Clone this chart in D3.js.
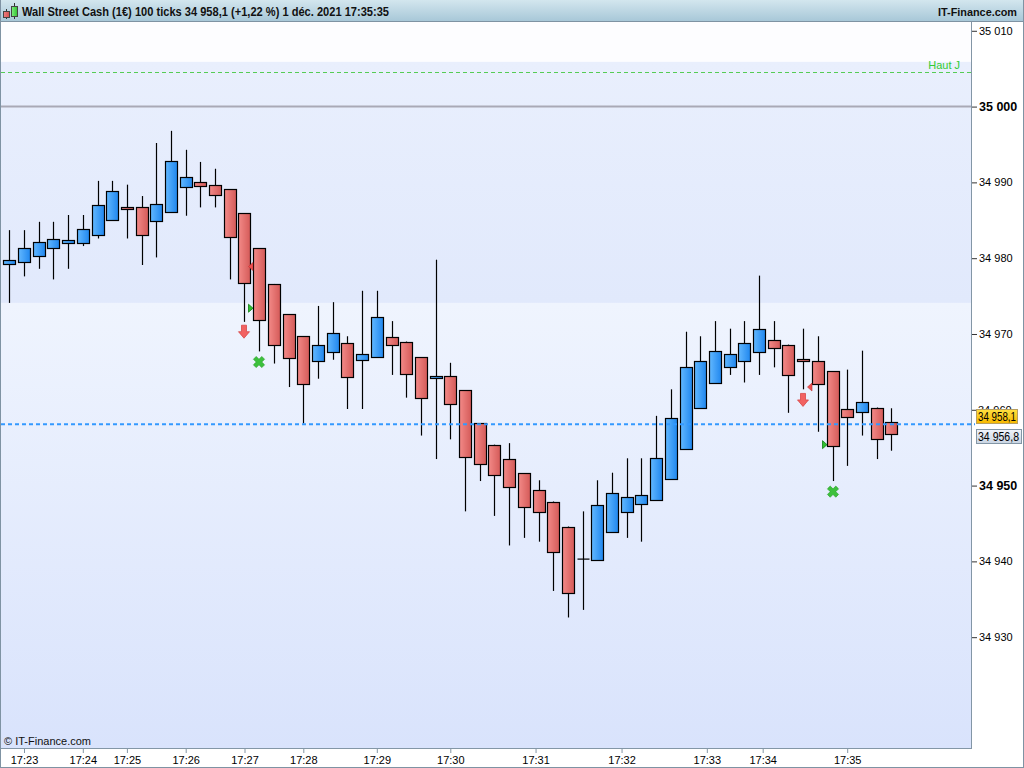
<!DOCTYPE html>
<html><head><meta charset="utf-8">
<script src="https://cdn.jsdelivr.net/npm/d3@7"></script>
<style>body{margin:0;background:#fff;} svg{display:block;font-family:"Liberation Sans",Arial,sans-serif;}</style>
</head><body>
<svg id="c" width="1024" height="768"></svg>
<script>
// ---- DATA ----
const opens  = [34979.2,34979.5,34980.4,34981.3,34982.0,34982.1,34983.0,34985.0,34986.8,34986.7,34984.9,34986.1,34989.4,34990.0,34989.7,34989.1,34985.9,34981.3,34976.6,34972.6,34969.7,34966.5,34967.6,34968.8,34966.5,34966.9,34969.6,34969.0,34966.9,34964.3,34964.4,34962.6,34958.2,34955.4,34953.5,34951.6,34949.4,34947.9,34944.6,34940.3,34940.3,34943.8,34946.5,34947.5,34948.1,34950.9,34954.9,34960.3,34963.5,34965.6,34966.4,34967.6,34969.2,34968.6,34966.7,34966.5,34965.1,34960.1,34959.7,34960.3,34958.4];
const highs  = [34983.7,34983.7,34984.8,34984.8,34985.7,34985.7,34990.2,34990.2,34989.7,34988.2,34995.2,34996.8,34994.3,34992.7,34991.8,34989.1,34985.9,34981.3,34976.6,34972.6,34969.7,34973.7,34974.2,34969.7,34975.7,34975.7,34971.7,34969.0,34966.9,34979.8,34966.2,34962.6,34958.2,34955.4,34955.6,34951.6,34950.7,34947.9,34944.6,34946.6,34950.7,34951.7,34953.6,34953.6,34959.2,34962.7,34970.3,34969.7,34971.7,34970.7,34971.7,34977.7,34971.7,34968.6,34970.7,34969.7,34965.1,34965.3,34967.8,34960.3,34960.2];
const lows   = [34974.1,34977.6,34978.6,34977.2,34978.6,34981.6,34982.6,34985.0,34982.6,34979.1,34980.1,34986.1,34985.6,34986.7,34986.7,34977.2,34971.6,34967.7,34966.1,34963.0,34958.2,34964.1,34966.6,34960.1,34960.1,34966.9,34964.6,34961.6,34956.6,34953.5,34956.1,34946.6,34950.6,34946.0,34942.1,34943.1,34942.6,34936.1,34932.6,34933.6,34940.3,34943.8,34943.1,34942.6,34948.1,34950.9,34954.9,34960.3,34963.5,34964.6,34963.6,34964.6,34965.6,34959.6,34962.7,34957.1,34950.6,34952.6,34956.6,34953.5,34954.6];
const closes = [34979.7,34981.4,34982.2,34982.5,34982.4,34983.9,34987.0,34988.8,34986.6,34983.0,34987.1,34992.8,34990.7,34989.5,34988.4,34982.8,34976.7,34971.8,34968.5,34966.8,34963.4,34968.6,34970.1,34964.3,34967.3,34972.2,34968.6,34964.8,34961.5,34964.5,34960.7,34953.7,34952.8,34951.5,34949.8,34947.1,34946.5,34941.3,34935.9,34940.3,34947.5,34949.0,34948.5,34948.7,34953.7,34958.9,34965.7,34966.5,34967.7,34967.3,34968.8,34970.6,34968.2,34964.7,34966.4,34963.5,34955.2,34959.1,34961.0,34956.2,34956.8];

const priceTicks = [34930,34940,34950,34960,34970,34980,34990,35000,35010];
const boldTicks  = [34950,35000];
const timeLabels = ["17:23","17:24","17:25","17:26","17:27","17:28","17:29","17:30","17:31","17:32","17:33","17:34","17:35"];
const timeIndex  = [1,5,8,12,16,20,25,30,35.8,41.65,47.45,51.25,57];

const hautJ = 35004.6;
const refLevel = 35000;
const lastPrice = 34958.1;
const lastClose = 34956.8;
const zoneLow = 34974.1, zoneHigh = 35005.9;
const arrowIdx = [16,54], arrowVal = [34970.3,34961.3];
const crossIdx = [17,56], crossVal = [34966.3,34949.2];
const redTriIdx = [17,55], redTriVal = [34978.9,34963.0];
const greenTriIdx = [17,56], greenTriVal = [34973.4,34955.4];

const title = "Wall Street Cash (1\u20ac) 100 ticks 34 958,1 (+1,22 %) 1 d\u00e9c. 2021 17:35:35";

// ---- LAYOUT ----
const W=1024,H=768;
const P={l:1,r:971,t:22,b:748};
const svg=d3.select("#c");
const defs=svg.append("defs");
const x=d3.scaleLinear().domain([0,60]).range([9.3,891.3]);
const y=d3.scaleLinear().domain([34915.38,35011.16]).range([P.b,P.t]);
const loc=d3.formatLocale({decimal:",",thousands:" ",grouping:[3],currency:["","€"]});
const fmt0=loc.format(",.0f"), fmt1=loc.format(",.1f");

function lg(id,stops,horiz){
  const g=defs.append("linearGradient").attr("id",id);
  if(horiz) g.attr("x1",0).attr("y1",0).attr("x2",1).attr("y2",0);
  else g.attr("x1",0).attr("y1",0).attr("x2",0).attr("y2",1);
  stops.forEach((c,i)=>g.append("stop").attr("offset",i/(stops.length-1)).attr("stop-color",c));
}
lg("hdr",["#d3e6ee","#a8c8d8"]);
lg("bgLow",["#eff4fe","#d9e3fc"]);
lg("band",["#e9effd","#e1e9fc"]);
lg("up",["#62b8ff","#1f86ee"],true);
lg("dn",["#f38a88","#d45a58"],true);
lg("yel",["#ffe040","#f7b800"]);
lg("gry",["#f0f4fa","#c9d4e2"]);
lg("icR",["#f08080","#d05050"],true);
lg("icG",["#80f080","#30c030"],true);

svg.append("rect").attr("width",W).attr("height",H).attr("fill","#fff");
// plot backgrounds
svg.append("rect").attr("x",P.l).attr("y",P.t).attr("width",P.r-P.l).attr("height",P.b-P.t).attr("fill","#fdfdff");
svg.append("rect").attr("x",P.l).attr("y",y(zoneLow)).attr("width",P.r-P.l).attr("height",P.b-y(zoneLow)).attr("fill","url(#bgLow)");
svg.append("rect").attr("x",P.l).attr("y",y(zoneHigh)).attr("width",P.r-P.l).attr("height",y(zoneLow)-y(zoneHigh)).attr("fill","url(#band)");

// header
svg.append("rect").attr("x",0).attr("y",0).attr("width",W).attr("height",21).attr("fill","url(#hdr)");
svg.append("line").attr("x1",0).attr("x2",W).attr("y1",21.5).attr("y2",21.5).attr("stroke","#7f93a3");
// icon
svg.append("line").attr("x1",6.5).attr("x2",6.5).attr("y1",9).attr("y2",19).attr("stroke","#333");
svg.append("rect").attr("x",3.5).attr("y",11.5).attr("width",6).attr("height",6).attr("fill","url(#icR)").attr("stroke","#444");
svg.append("line").attr("x1",14.5).attr("x2",14.5).attr("y1",3).attr("y2",19).attr("stroke","#333");
svg.append("rect").attr("x",11.5).attr("y",6.5).attr("width",6).attr("height",10).attr("fill","url(#icG)").attr("stroke","#444");
svg.append("text").attr("x",22).attr("y",16).attr("font-size",12.5).attr("font-weight","bold").attr("fill","#111")
  .attr("textLength",367).attr("lengthAdjust","spacingAndGlyphs").text(title);
svg.append("text").attr("x",938).attr("y",16).attr("font-size",11.5).attr("font-weight","bold").attr("fill","#111")
  .attr("textLength",79).attr("lengthAdjust","spacingAndGlyphs").text("IT-Finance.com");

const plot=svg.append("g");
// haut J
plot.append("line").attr("x1",P.l).attr("x2",P.r).attr("y1",Math.round(y(hautJ))+0.5).attr("y2",Math.round(y(hautJ))+0.5)
  .attr("stroke","#55cc55").attr("stroke-dasharray","4,3");
plot.append("text").attr("x",960).attr("y",y(hautJ)-3).attr("text-anchor","end").attr("font-size",11).attr("fill","#33cc33").text("Haut J");
// 35000 line
plot.append("line").attr("x1",P.l).attr("x2",P.r).attr("y1",y(refLevel)).attr("y2",y(refLevel)).attr("stroke","#a9a9b6").attr("stroke-width",2);

// candles
const idx=d3.range(opens.length);
const cg=plot.append("g");
const cx=i=>Math.round(x(i))+0.5;
cg.selectAll(".wick").data(idx).join("line")
  .attr("x1",cx).attr("x2",cx).attr("y1",i=>y(highs[i])).attr("y2",i=>y(lows[i]))
  .attr("stroke","#000").attr("stroke-width",1.2);
cg.selectAll(".body").data(idx.filter(i=>opens[i]!==closes[i])).join("rect")
  .attr("x",i=>cx(i)-6).attr("width",12)
  .attr("y",i=>Math.round(y(Math.max(opens[i],closes[i])))+0.5)
  .attr("height",i=>Math.max(1,Math.round(Math.abs(y(opens[i])-y(closes[i])))))
  .attr("fill",i=>closes[i]>opens[i]?"url(#up)":"url(#dn)")
  .attr("stroke","#000").attr("stroke-width",1.2);
cg.selectAll(".doji").data(idx.filter(i=>opens[i]===closes[i])).join("line")
  .attr("x1",i=>cx(i)-6).attr("x2",i=>cx(i)+6).attr("y1",i=>y(opens[i])).attr("y2",i=>y(opens[i]))
  .attr("stroke","#000").attr("stroke-width",1.2);

// markers
arrowIdx.forEach((ii,k)=>{
  const X=cx(ii)-0.5, Y=y(arrowVal[k]);
  plot.append("path").attr("d",`M${X-2.5},${Y-6.5}L${X+2.5},${Y-6.5}L${X+2.5},${Y}L${X+5.5},${Y}L${X},${Y+6.5}L${X-5.5},${Y}L${X-2.5},${Y}Z`)
    .attr("fill","#f26262").attr("stroke","#d84848").attr("stroke-width",0.8);
});
crossIdx.forEach((ii,k)=>{
  plot.append("path").attr("d",d3.symbol(d3.symbolCross,78)())
    .attr("transform",`translate(${cx(ii)-0.5},${y(crossVal[k])}) rotate(45)`)
    .attr("fill","#3cc03c").attr("stroke","#2aa02a").attr("stroke-width",0.6);
});
redTriIdx.forEach((ii,k)=>{
  const X=cx(ii)-6.5, Y=y(redTriVal[k]);
  plot.append("path").attr("d",`M${X},${Y-4}L${X},${Y+4}L${X-4.5},${Y}Z`).attr("fill","#f05050").attr("stroke","#c03030").attr("stroke-width",0.6);
});
greenTriIdx.forEach((ii,k)=>{
  const X=cx(ii)-11, Y=y(greenTriVal[k]);
  plot.append("path").attr("d",`M${X},${Y-4}L${X},${Y+4}L${X+4.5},${Y}Z`).attr("fill","#30c030").attr("stroke","#108010").attr("stroke-width",0.8);
});

// last price dashed line
plot.append("line").attr("x1",P.l).attr("x2",975).attr("y1",y(lastPrice)).attr("y2",y(lastPrice))
  .attr("stroke","#3399ff").attr("stroke-width",2).attr("stroke-dasharray","4,3");

// copyright
svg.append("text").attr("x",4).attr("y",745).attr("font-size",11).attr("fill","#111").text("\u00a9 IT-Finance.com");

// frame
svg.append("line").attr("x1",P.r+0.5).attr("x2",P.r+0.5).attr("y1",22).attr("y2",P.b+1).attr("stroke","#8396a6");
svg.append("line").attr("x1",0).attr("x2",P.r+1).attr("y1",P.b+0.5).attr("y2",P.b+0.5).attr("stroke","#8396a6");
svg.append("line").attr("x1",0.5).attr("x2",0.5).attr("y1",0).attr("y2",H).attr("stroke","#7f93a3");
svg.append("line").attr("x1",W-0.5).attr("x2",W-0.5).attr("y1",0).attr("y2",H).attr("stroke","#7f93a3");
svg.append("line").attr("x1",0).attr("x2",W).attr("y1",H-0.5).attr("y2",H-0.5).attr("stroke","#7f93a3");

// right axis
const ya=svg.append("g").attr("transform",`translate(${P.r+1},0)`)
  .call(d3.axisRight(y).tickValues(priceTicks).tickSize(5).tickPadding(2).tickFormat(fmt0));
ya.select(".domain").remove();
ya.selectAll(".tick line").attr("stroke","#333");
ya.selectAll(".tick text").attr("font-family","Liberation Sans, Arial, sans-serif").attr("fill","#000")
  .attr("font-size",d=>boldTicks.includes(d)?12.5:11).attr("font-weight",d=>boldTicks.includes(d)?"bold":"normal");
// the 34 960 label sits under the price boxes: clip it so only its top shows, as in the reference
defs.append("clipPath").attr("id","clipHid").append("rect").attr("x",972).attr("y",0).attr("width",52).attr("height",y(lastPrice)-15);
ya.selectAll(".tick").filter(d=>d===34960).each(function(){
  const t=d3.select(this); const ty=y(34960);
  t.select("text").remove();
  svg.append("g").attr("clip-path","url(#clipHid)").append("text")
    .attr("x",978).attr("y",ty+4).attr("font-size",11).attr("fill","#000").text(fmt0(34960));
});

// bottom axis
const xa=svg.append("g").attr("transform",`translate(0,${P.b+1})`)
  .call(d3.axisBottom(x).tickValues(timeIndex).tickSize(4).tickPadding(3).tickFormat((d,i)=>timeLabels[i]));
xa.select(".domain").remove();
xa.selectAll(".tick line").attr("stroke","#8396a6");
xa.selectAll(".tick text").attr("font-family","Liberation Sans, Arial, sans-serif").attr("font-size",11).attr("fill","#000");

// price boxes
const b1=y(lastPrice)-15;
svg.append("rect").attr("x",976.5).attr("y",Math.round(b1)+0.5).attr("width",41).attr("height",14).attr("fill","url(#yel)").attr("stroke","#b8a060");
svg.append("text").attr("x",978).attr("y",Math.round(b1)+12).attr("font-size",12).attr("fill","#000")
  .attr("textLength",38).attr("lengthAdjust","spacingAndGlyphs").text(fmt1(lastPrice));
const b2=y(lastClose)-5;
svg.append("rect").attr("x",976.5).attr("y",Math.round(b2)+0.5).attr("width",45).attr("height",14).attr("fill","url(#gry)").attr("stroke","#8396a6");
svg.append("text").attr("x",978).attr("y",Math.round(b2)+12).attr("font-size",12).attr("fill","#000")
  .attr("textLength",41).attr("lengthAdjust","spacingAndGlyphs").text(fmt1(lastClose));
</script>
</body></html>
